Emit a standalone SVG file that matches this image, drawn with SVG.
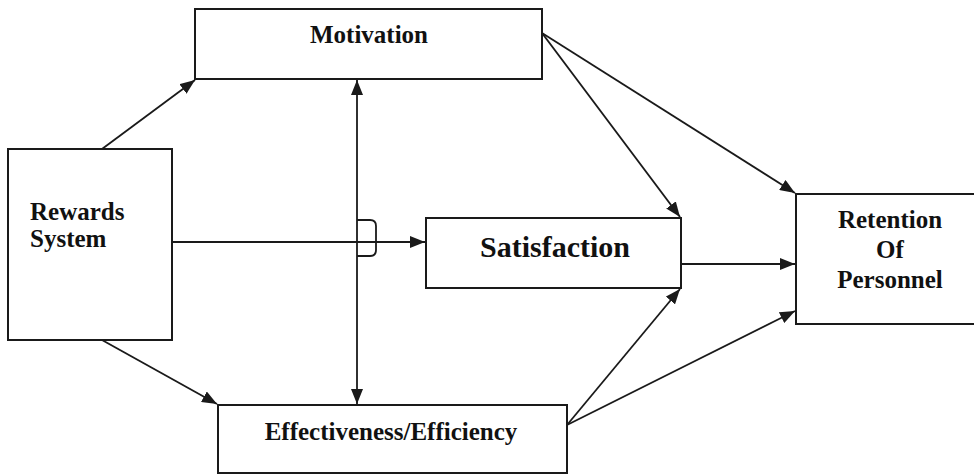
<svg xmlns="http://www.w3.org/2000/svg" width="974" height="475" viewBox="0 0 974 475">
  <style>
    .box { fill: #ffffff; stroke: #1a1a1a; stroke-width: 2; }
    .label { font-family: 'Liberation Serif', 'Times New Roman', 'DejaVu Serif', serif; font-weight: bold; font-size: 25px; fill: #111111; }
    .big { font-size: 30px; }
    .edge { fill: none; stroke: #1a1a1a; stroke-width: 1.8; }
  </style>
  <defs>
    <marker id="arrow" markerUnits="userSpaceOnUse" markerWidth="16" markerHeight="12" refX="15" refY="6" orient="auto-start-reverse">
      <path d="M0,0 L15,6 L0,12 z" fill="#1a1a1a"/>
    </marker>
  </defs>
  <rect width="974" height="475" fill="#ffffff"/>

  <!-- connectors -->
  <g id="connectors">
    <line class="edge" x1="102" y1="149" x2="195" y2="80" marker-end="url(#arrow)"/>
    <line class="edge" x1="102" y1="340" x2="217" y2="404" marker-end="url(#arrow)"/>
    <line class="edge" x1="357" y1="80" x2="357" y2="404" marker-start="url(#arrow)" marker-end="url(#arrow)"/>
    <line class="edge" x1="172" y1="242" x2="425" y2="242" marker-end="url(#arrow)"/>
    <!-- line jump where the horizontal link crosses the vertical one -->
    <path class="edge" d="M357,220 H370 Q376,220 376,226 V250 Q376,256 370,256 H357"/>
    <line class="edge" x1="542" y1="33" x2="680" y2="217" marker-end="url(#arrow)"/>
    <line class="edge" x1="542" y1="33" x2="795" y2="193" marker-end="url(#arrow)"/>
    <line class="edge" x1="681" y1="264" x2="795" y2="264" marker-end="url(#arrow)"/>
    <line class="edge" x1="567" y1="425" x2="680" y2="289" marker-end="url(#arrow)"/>
    <line class="edge" x1="567" y1="425" x2="795" y2="311" marker-end="url(#arrow)"/>
  </g>

  <g id="rewards">
    <rect class="box" x="8" y="149" width="164" height="191"/>
    <text class="label" x="30" y="220">Rewards</text>
    <text class="label" x="30" y="247">System</text>
  </g>

  <g id="motivation">
    <rect class="box" x="195" y="9" width="347" height="70"/>
    <text class="label" x="369" y="43" text-anchor="middle">Motivation</text>
  </g>

  <g id="satisfaction">
    <rect class="box" x="426" y="218" width="255" height="70"/>
    <text class="label big" x="555" y="257" text-anchor="middle">Satisfaction</text>
  </g>

  <g id="effectiveness">
    <rect class="box" x="218" y="405" width="349" height="68"/>
    <text class="label" x="391" y="440" text-anchor="middle">Effectiveness/Efficiency</text>
  </g>

  <g id="retention">
    <rect class="box" x="796" y="194" width="180" height="130"/>
    <text class="label" x="890" y="228" text-anchor="middle">Retention</text>
    <text class="label" x="890" y="258" text-anchor="middle">Of</text>
    <text class="label" x="890" y="288" text-anchor="middle">Personnel</text>
  </g>
</svg>
